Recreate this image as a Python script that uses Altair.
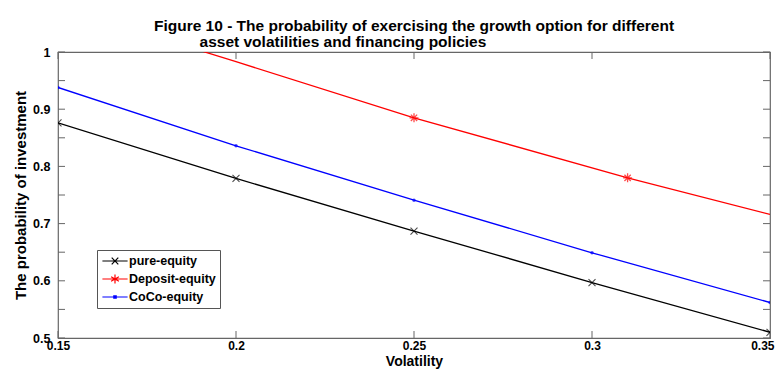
import altair as alt
import pandas as pd

# ---- data ----
vol = [0.15, 0.2, 0.25, 0.3, 0.35]
pure_equity = [0.876, 0.779, 0.687, 0.597, 0.510]
coco_equity = [0.938, 0.836, 0.741, 0.649, 0.562]
deposit_x = [0.15, 0.2, 0.25, 0.31, 0.35]
deposit_equity = [1.08, 0.983, 0.885, 0.780, 0.716]
deposit_marker = [False, False, True, True, False]

names = ["pure-equity", "Deposit-equity", "CoCo-equity"]
colors = ["#000000", "#ff0000", "#0000ff"]
x_ticks = [0.15, 0.2, 0.25, 0.3, 0.35]
y_ticks = [0.5, 0.55, 0.6, 0.65, 0.7, 0.75, 0.8, 0.85, 0.9, 0.95, 1.0]

title_lines = [
    "Figure 10 - The probability of exercising the growth option for different",
    "asset volatilities and financing policies" + "\u00a0" * 33 + "\u200d",
]

FONT = "Liberation Sans, Arial, Helvetica"
W, H = 712, 286
FRAME = "#666666"

rows = []
for x, y in zip(vol, pure_equity):
    rows.append({"vol": x, "p": y, "series": names[0], "marker": True})
for x, y, m in zip(deposit_x, deposit_equity, deposit_marker):
    rows.append({"vol": x, "p": y, "series": names[1], "marker": m})
for x, y in zip(vol, coco_equity):
    rows.append({"vol": x, "p": y, "series": names[2], "marker": True})
df = pd.DataFrame(rows)

xs = alt.Scale(domain=[0.15, 0.35], nice=False, zero=False)
ys = alt.Scale(domain=[0.5, 1.0], nice=False, zero=False)
cs = alt.Scale(domain=names, range=colors)

X = alt.X("vol:Q", scale=xs, title="Volatility",
          axis=alt.Axis(values=x_ticks, format="~g", ticks=False, grid=False, domain=False,
                        labelFlush=False, labelOverlap=False, labelPadding=2, titlePadding=3,
                        labelFontSize=12, titleFontSize=14,
                        labelAlign={"condition": {"test": "datum.value >= 0.349", "value": "right"},
                                    "value": "center"},
                        labelOffset={"condition": {"test": "datum.value >= 0.349", "value": 4},
                                     "value": 0}))
Y = alt.Y("p:Q", scale=ys, title="The probability of investment",
          axis=alt.Axis(values=y_ticks, format="~g", ticks=False, grid=False, domain=False,
                        labelFlush=False, labelOverlap=False, labelPadding=8, titlePadding=4))

base = alt.Chart(df)

layers = []
marker_shapes = [
    dict(shape="M-1,-1L1,1M-1,1L1,-1", size=49, filled=False, strokeWidth=1.1),
    dict(shape="M-1,0H1M0,-1V1M-0.7,-0.7L0.7,0.7M-0.7,0.7L0.7,-0.7", size=81, filled=False, strokeWidth=1.3),
    dict(shape="circle", size=12, filled=True),
]
for name, col, ms in zip(names, colors, marker_shapes):
    sub = base.transform_filter(alt.datum.series == name)
    layers.append(sub.mark_line(color=col, strokeWidth=1.3, clip=True).encode(x=X, y=Y))
    layers.append(sub.transform_filter(alt.datum.marker).mark_point(color=col, clip=True, **ms).encode(x=X, y=Y))

legend_paths = [
    "M-2.1,0H2.1M-0.55,-0.55L0.55,0.55M-0.55,0.55L0.55,-0.55",
    "M-2.1,0H2.1M0,-0.75V0.75M-0.65,-0.38L0.65,0.38M-0.65,0.38L0.65,-0.38",
    "M-2.1,0H2.1M-0.2,-0.2H0.2V0.2H-0.2Z",
]
leg = alt.Legend(title=None, orient="none", legendX=39, legendY=198,
                 strokeColor="#555555", fillColor="white", padding=4,
                 symbolSize=144, symbolOffset=7, labelOffset=7, rowPadding=4,
                 labelFont=FONT, labelFontSize=12.5, labelFontWeight="bold", labelColor="black",
                 symbolStrokeWidth=1.2, symbolOpacity=1)
legend_layer = base.mark_point(filled=False, opacity=0, clip=True).encode(
    x=X, y=Y,
    color=alt.Color("series:N", scale=cs, legend=leg),
    shape=alt.Shape("series:N", scale=alt.Scale(domain=names, range=legend_paths), legend=leg),
)

tx = pd.DataFrame({"t": x_ticks})
ty = pd.DataFrame({"t": y_ticks})
tick_b = alt.Chart(tx).mark_rule(color=FRAME, strokeWidth=1).encode(
    x=alt.X("t:Q", scale=xs), y=alt.value(H), y2=alt.value(H - 7))
tick_t = alt.Chart(tx).mark_rule(color=FRAME, strokeWidth=1).encode(
    x=alt.X("t:Q", scale=xs), y=alt.value(0), y2=alt.value(7))
tick_l = alt.Chart(ty).mark_rule(color=FRAME, strokeWidth=1).encode(
    y=alt.Y("t:Q", scale=ys), x=alt.value(0), x2=alt.value(7))
tick_r = alt.Chart(ty).mark_rule(color=FRAME, strokeWidth=1).encode(
    y=alt.Y("t:Q", scale=ys), x=alt.value(W), x2=alt.value(W - 7))

chart = alt.layer(
    tick_b, tick_t, tick_l, tick_r, *layers, legend_layer
).properties(
    width=W, height=H,
    autosize=alt.AutoSizeParams(type="none"),
    padding={"left": 50, "top": 44, "right": 5, "bottom": 31},
    background="white",
    title=alt.TitleParams(text=title_lines, anchor="middle", frame="group", font=FONT, fontSize=15.5,
                          fontWeight="bold", color="black", lineHeight=16, offset=6, dy=10),
).configure_view(stroke=FRAME, strokeWidth=1.2
).configure_axis(labelFont=FONT, labelFontSize=12.5, labelFontWeight="bold", labelColor="black",
                 titleFont=FONT, titleFontSize=15, titleFontWeight="bold", titleColor="black")

chart.save("out.html", embed_options={"renderer": "svg", "actions": False})
